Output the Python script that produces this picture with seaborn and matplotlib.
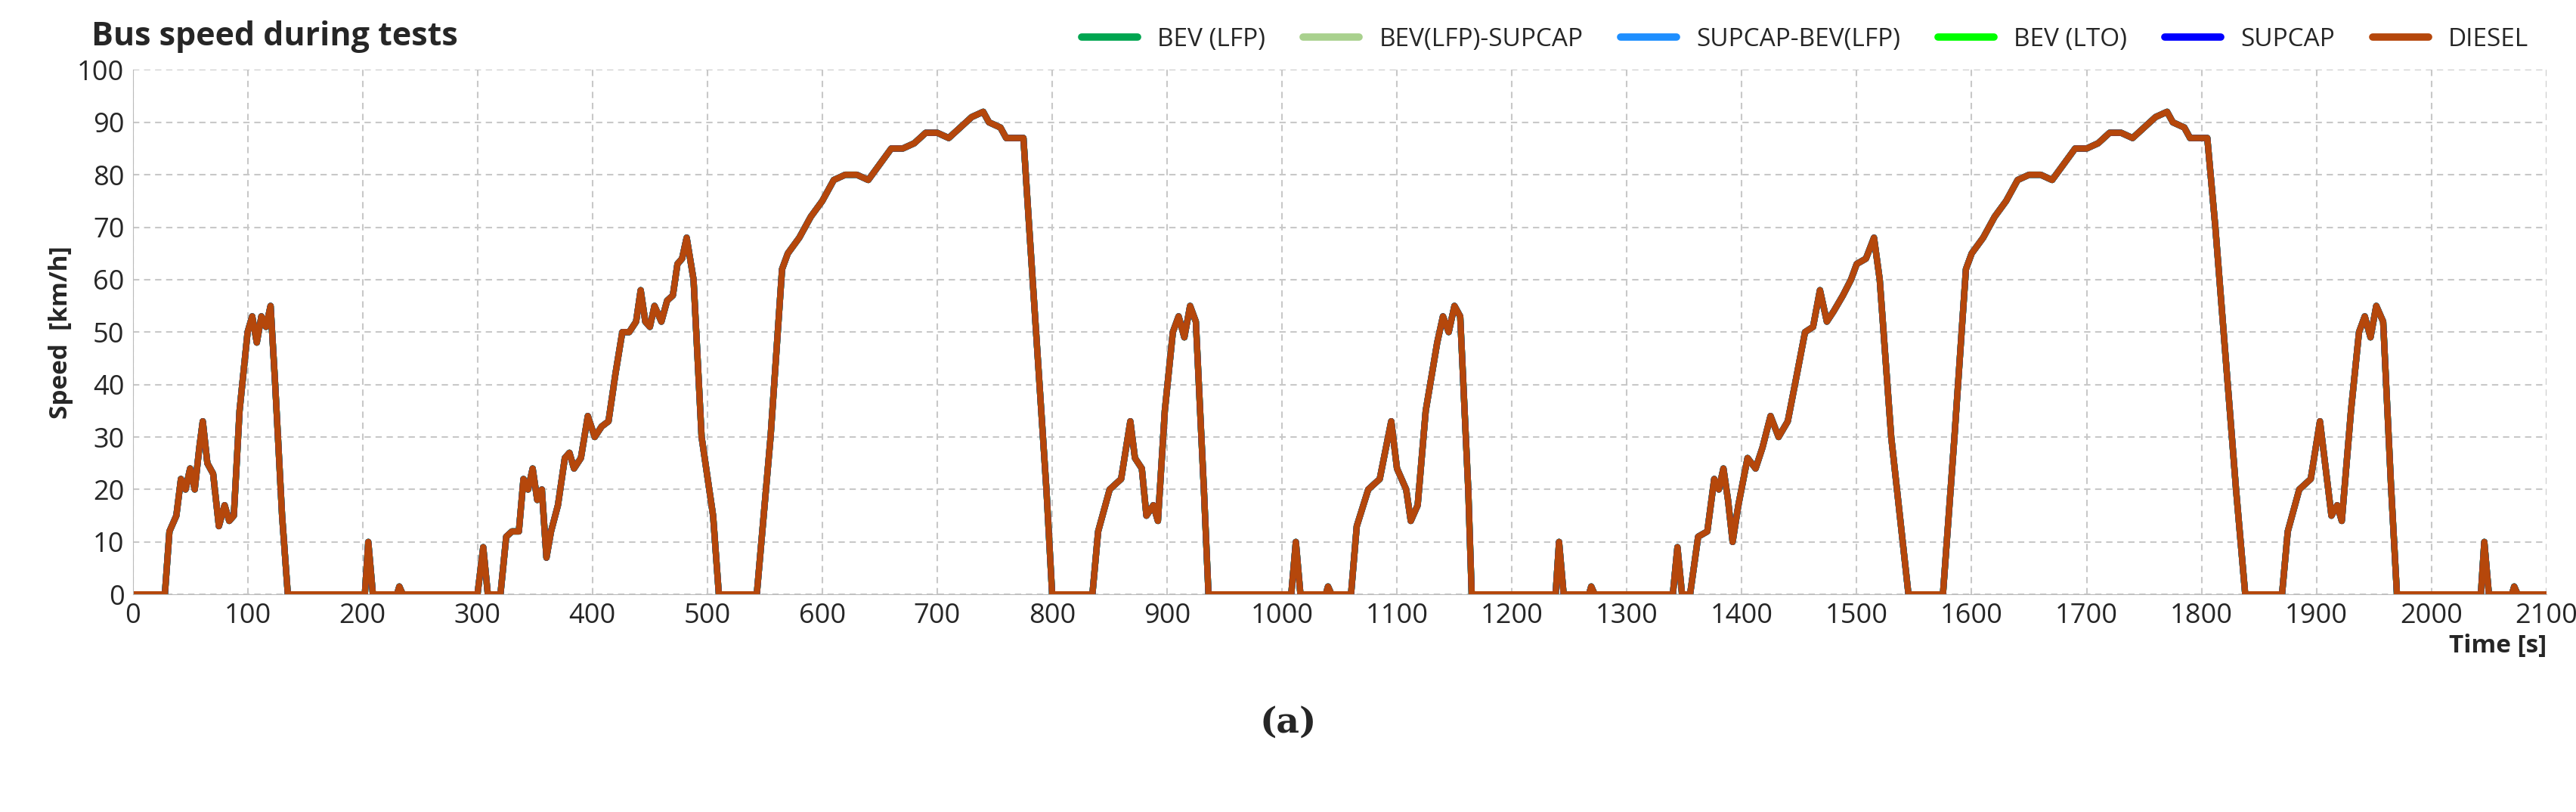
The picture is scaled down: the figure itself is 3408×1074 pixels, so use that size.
import matplotlib
matplotlib.use("Agg")
import matplotlib.pyplot as plt
import seaborn as sns
import pandas as pd

time_s = [0,28,32,38,42,46,50,54,58,61,65,70,75,80,84,88,93,100,104,108,112,116,120,124,130,135,202,205,209,230,232,235,300,305,309,320,325,330,336,340,344,348,352,356,360,364,370,376,380,384,390,396,402,408,414,420,426,432,438,442,446,450,454,460,465,470,474,478,482,488,495,505,510,543,555,565,570,580,590,600,610,620,630,640,650,660,670,680,690,700,710,720,730,740,745,755,760,775,780,795,800,
          835,840,850,860,868,872,878,882,888,892,898,905,910,915,920,925,932,936,1008,1012,1016,1038,1040,1043,1060,1065,1075,1085,1095,1100,1108,1112,1118,1125,1135,1140,1145,1150,1155,1162,1165,1238,1241,1245,1267,1269,1272,1340,1344,1348,1355,1362,1370,1376,1380,1384,1388,1392,1397,1405,1412,1418,1425,1432,1440,1448,1455,1462,1468,1474,1480,1488,1495,1500,1508,1515,1520,1530,1540,1545,1575,1585,1595,1600,1610,1620,1630,1640,1650,1660,1670,1680,1690,1700,1710,1720,1730,1740,1750,1760,1770,1775,1785,1790,1805,1812,1830,1838,1870,1875,1885,1895,1903,1908,1913,1918,1922,1930,1937,1942,1947,1952,1958,1965,1970,2043,2046,2050,2070,2072,2075,2100]
speed = [0,0,12,15,22,20,24,20,28,33,25,23,13,17,14,15,35,50,53,48,53,51,55,40,15,0,0,10,0,0,1.5,0,0,9,0,0,11,12,12,22,20,24,18,20,7,12,17,26,27,24,26,34,30,32,33,42,50,50,52,58,52,51,55,52,56,57,63,64,68,60,30,15,0,0,30,62,65,68,72,75,79,80,80,79,82,85,85,86,88,88,87,89,91,92,90,89,87,87,70,20,0,
         0,12,20,22,33,26,24,15,17,14,35,50,53,49,55,52,20,0,0,10,0,0,1.5,0,0,13,20,22,33,24,20,14,17,35,48,53,50,55,53,20,0,0,10,0,0,1.5,0,0,9,0,0,11,12,22,20,24,18,10,17,26,24,28,34,30,33,42,50,51,58,52,54,57,60,63,64,68,60,30,10,0,0,30,62,65,68,72,75,79,80,80,79,82,85,85,86,88,88,87,89,91,92,90,89,87,87,70,20,0,0,12,20,22,33,24,15,17,14,35,50,53,49,55,52,20,0,0,10,0,0,1.5,0,0]

series = ["BEV (LFP)", "BEV(LFP)-SUPCAP", "SUPCAP-BEV(LFP)", "BEV (LTO)", "SUPCAP", "DIESEL"]
colors = ["#00A550", "#A9D18E", "#1E8FFF", "#00FF00", "#0000FF", "#B5470B"]

rows = []
for s in series:
    for t, v in zip(time_s, speed):
        rows.append({"Time": t, "Speed": v, "Series": s})
df = pd.DataFrame(rows)

sns.set_style("white")
plt.rcParams['font.family'] = ['Open Sans', 'DejaVu Sans']
fig = plt.figure(figsize=(34.08, 10.74), dpi=100)
ax = fig.add_axes([0.0515, 0.268, 0.937, 0.646])
sns.lineplot(data=df, x="Time", y="Speed", hue="Series", palette=colors,
             hue_order=series, linewidth=6, ax=ax, legend=True)
ax.set_xlim(0, 2100)
ax.set_ylim(0, 100)
ax.set_xticks(range(0, 2101, 100))
ax.set_yticks(range(0, 101, 10))
ax.tick_params(labelsize=26, length=0, pad=8)
ax.grid(True, color="#C8C8C8", linestyle=(0, (4, 3)), linewidth=1.5)
for sp in ["top", "right"]:
    ax.spines[sp].set_visible(False)
ax.spines["left"].set_color("#BBBBBB")
ax.spines["bottom"].set_color("#BBBBBB")
ax.set_xlabel("")
ax.set_ylabel("Speed  [km/h]", fontsize=24, fontweight="bold")
ax.text(1.0, -0.075, "Time [s]", transform=ax.transAxes, ha="right", va="top",
        fontsize=24, fontweight="bold")
fig.text(0.0355, 0.955, "Bus speed during tests", fontsize=31, fontweight="bold", ha="left", va="center")
leg = ax.legend(loc="lower right", bbox_to_anchor=(1.0, 1.0), ncol=6, frameon=False,
                fontsize=24, handlelength=2.2, columnspacing=1.5, borderaxespad=0.3)
for line in leg.get_lines():
    line.set_linewidth(7)
fig.text(0.5, 0.11, "(a)", fontsize=34, fontweight="bold", ha="center", va="center", family="DejaVu Serif")
fig.savefig("out.png", dpi=100)
